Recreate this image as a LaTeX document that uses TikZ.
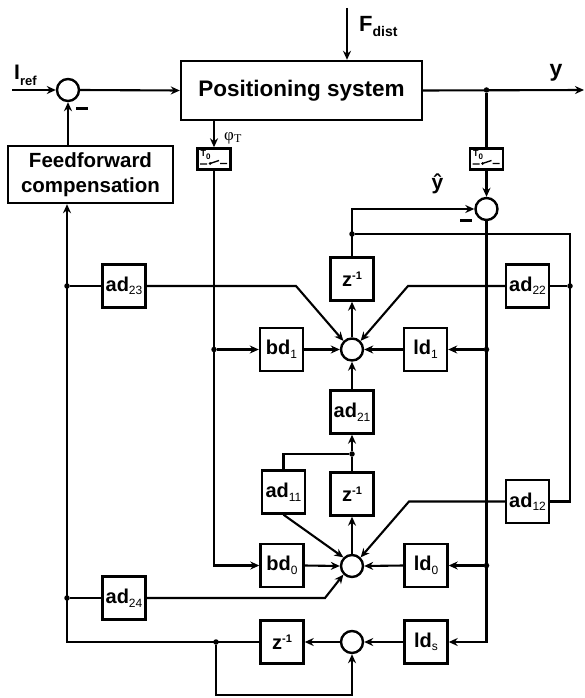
\documentclass[tikz,border=0pt]{standalone}
\usepackage{fontspec}
\setmainfont{Liberation Sans}
\newfontfamily\serifphi{Liberation Serif}
\usetikzlibrary{arrows.meta,calc}
\newcommand{\fsz}[1]{\fontsize{#1}{#1}\selectfont}
\newcommand{\lowtxt}[1]{\raisebox{-3.5pt}{\fsz{12}\mdseries #1}}
\newcommand{\uptxt}[1]{\raisebox{7pt}{\fsz{11}#1}}
\newcommand{\sampin}[2]{%
  \node[inner sep=0pt,font=\bfseries\fsz{9},anchor=north west] (#2) at ($(#1.north west)+(4,3)$) {T\raisebox{-3pt}{\fsz{8}0}};
  \draw[line width=1.3pt] ($(#1.center)+(-14,5)$) -- ++(7,0)
     ($(#1.center)+(-4,4.5)$) -- ($(#1.center)+(5,1.5)$)
     ($(#1.center)+(6,4.5)$) -- ($(#1.center)+(13,4.5)$);
  \fill ($(#1.center)+(-4,4.5)$) circle (1.5pt);
}
\begin{document}
\begin{tikzpicture}[x=1pt,y=-1pt,
  ln/.style={line width=2.1pt},
  thinln/.style={line width=1.6pt},
  arr/.style={ln,-{Stealth[length=9pt,width=8pt]}},
  tarr/.style={thinln,-{Stealth[length=9pt,width=8pt]}},
  blk/.style={draw,line width=2.4pt,minimum width=43pt,minimum height=43pt,inner sep=0pt,font=\bfseries\fsz{20}},
  sumc/.style={circle,draw,line width=2.4pt,minimum size=22pt,inner sep=0pt},
  dot/.style={circle,fill,minimum size=5.5pt,inner sep=0pt},
  samp/.style={draw,line width=2.4pt,minimum width=33pt,minimum height=21pt,inner sep=0pt},
  minus/.style={fill,minimum width=12pt,minimum height=3pt,inner sep=0pt},
  lbl/.style={inner sep=0pt}]
\path[use as bounding box] (0,0) rectangle (584,698);

% main blocks
\node[sumc] (sref) at (68,90) {};
\node[draw,line width=2.4pt,minimum width=241pt,minimum height=59pt,inner sep=0pt,font=\bfseries\fsz{22.5}] (ps) at (301.5,90.5) {Positioning system};
\node[draw,line width=2.4pt,minimum width=165pt,minimum height=57pt,inner sep=0pt,align=center,font=\bfseries\fontsize{20.5}{25}\selectfont] (ff) at (90.5,174.5) {Feedforward\\compensation};
\node[samp] (sa1) at (214,159) {};
\node[samp] (sa2) at (486.5,159) {};
\sampin{sa1}{t1}
\sampin{sa2}{t2}
\node[sumc] (sy) at (486.5,209) {};

\node[blk] (z1) at (352,279) {z\uptxt{-1}};
\node[blk] (ad22) at (527.5,286) {ad\lowtxt{22}};
\node[blk] (ad23) at (124,286) {ad\lowtxt{23}};
\node[sumc] (s1) at (352,349.5) {};
\node[blk] (bd1) at (281.5,349.5) {bd\lowtxt{1}};
\node[blk] (ld1) at (425.5,349.5) {ld\lowtxt{1}};
\node[blk] (ad21) at (352,412) {ad\lowtxt{21}};
\node[blk] (ad11) at (283.5,492) {ad\lowtxt{11}};
\node[blk] (z2) at (352,494) {z\uptxt{-1}};
\node[blk] (ad12) at (527.5,501.5) {ad\lowtxt{12}};
\node[sumc] (s0) at (352,566) {};
\node[blk] (bd0) at (282,565.5) {bd\lowtxt{0}};
\node[blk] (ld0) at (426,565.5) {ld\lowtxt{0}};
\node[blk] (ad24) at (124,598) {ad\lowtxt{24}};
\node[blk] (lds) at (426,642) {ld\lowtxt{s}};
\node[sumc] (sb) at (352,642) {};
\node[blk] (z3) at (282,642) {z\uptxt{-1}};

% labels
\node[lbl,anchor=base west,font=\bfseries\fsz{21}] (liref) at (14,80) {I\raisebox{-6pt}{\fsz{13}ref}};
\node[lbl,anchor=base west,font=\bfseries\fsz{22}] (lfd) at (359,32) {F\raisebox{-5pt}{\fsz{14}dist}};
\node[lbl,anchor=base,font=\bfseries\fsz{23}] (ly) at (556,77) {y};
\node[lbl,anchor=base,font=\bfseries\fsz{21}] (lyh) at (437.5,189) {ŷ};
\node[lbl,anchor=base west,font=\serifphi\fsz{17}] (lphi) at (224,140) {φ\raisebox{-2pt}{\fsz{12}T}};
\node[minus] (m1) at (82,108.5) {};
\node[minus] (m2) at (466,220.5) {};

% dots and corners
\node[dot] (dy) at (486.5,90) {};
\coordinate (yend) at (584,90);
\coordinate (fst) at (347,8);
\coordinate (ist) at (12,90);
\node[dot] (dl1) at (67,286) {};
\node[dot] (dl2) at (67,598) {};
\coordinate (cl3) at (67,642);
\node[dot] (dp) at (214,349.5) {};
\coordinate (cp) at (214,565.5);
\node[dot] (dz) at (352,234) {};
\coordinate (czy) at (352,209);
\coordinate (cr1) at (570,234);
\node[dot] (dr1) at (570,286) {};
\coordinate (cr2) at (570,501.5);
\node[dot] (dd1) at (486.5,349.5) {};
\node[dot] (dd0) at (486.5,565.5) {};
\coordinate (cds) at (486.5,642);
\node[dot] (dm) at (352,454) {};
\coordinate (cm) at (283.5,454);
\node[dot] (db) at (216,642) {};
\coordinate (cb1) at (216,695);
\coordinate (cb2) at (352,695);
\coordinate (k23) at (296,286);
\coordinate (k22) at (408,286);
\coordinate (k12) at (409,501.5);
\coordinate (k24) at (325,598);

% connectors
\draw[tarr] (ist) -- (sref.west);
\draw[arr] (sref.east) -- (ps.west);
\draw[tarr] (fst) -- (fst |- ps.north);
\draw[arr] (ps.east) -- (yend);
\draw[ln] (dy) -- (sa2.north);
\draw[arr] (sa2.south) -- (sy.north);
\draw[arr] (sa1 |- ps.south) -- (sa1.north);
\draw[arr] (sref |- ff.north) -- (sref.south);
\draw[arr] (sa1.south) -- (cp) -- (bd0.west);
\draw[arr] (dp) -- (bd1.west);
\draw[arr] (z1.north) -- (czy) -- (sy.west);
\draw[ln] (dz) -- (cr1) -- (cr2) -- (ad12.east);
\draw[ln] (dr1) -- (ad22.east);
\draw[arr] (ad22.west) -- (k22) -- (s1.45);
\draw[arr] (ad12.west) -- (k12) -- (s0.45);
\draw[ln] (dl1) -- (ad23.west);
\draw[arr] (ad23.east) -- (k23) -- (s1.135);
\draw[ln] (dl2) -- (ad24.west);
\draw[arr] (ad24.east) -- (k24) -- (s0.225);
\draw[arr] (ad11.south) -- (s0.135);
\draw[arr] (sy.south) -- (cds) -- (lds.east);
\draw[arr] (dd1) -- (ld1.east);
\draw[arr] (dd0) -- (ld0.east);
\draw[arr] (bd1.east) -- (s1.west);
\draw[arr] (ld1.west) -- (s1.east);
\draw[arr] (s1.north) -- (z1.south);
\draw[arr] (ad21.north) -- (s1.south);
\draw[arr] (dm) -- (ad21.south);
\draw[ln] (z2.north) -- (dm);
\draw[ln] (ad11.north) -- (cm) -- (dm);
\draw[arr] (s0.north) -- (z2.south);
\draw[arr] (bd0.east) -- (s0.west);
\draw[arr] (ld0.west) -- (s0.east);
\draw[arr] (lds.west) -- (sb.east);
\draw[arr] (sb.west) -- (z3.east);
\draw[arr] (z3.west) -- (cl3) -- (cl3 |- ff.south);
\draw[arr] (db) -- (cb1) -- (cb2) -- (sb.south);
\end{tikzpicture}
\end{document}
